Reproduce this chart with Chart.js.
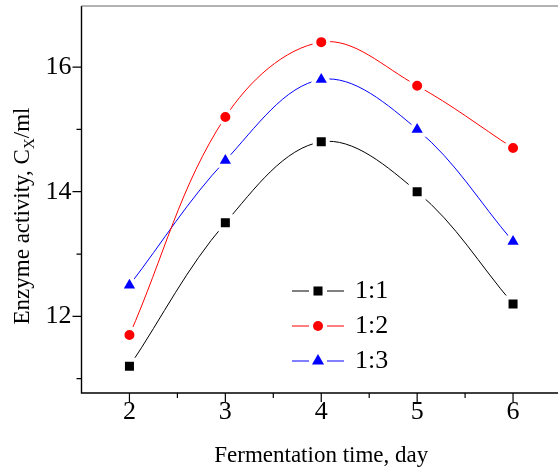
<!DOCTYPE html>
<html>
<head>
<meta charset="utf-8">
<script src="https://cdn.jsdelivr.net/npm/chart.js@4/dist/chart.umd.min.js"></script>
<style>
    html, body { margin: 0; padding: 0; background: #fff; overflow: hidden; }
    #wrap { width: 572px; height: 468px; }
</style>
</head>
<body>
<div id="wrap"><canvas id="activityChart" width="572" height="468"></canvas></div>
<script>
// fermentation day vs. enzyme activity for three substrate ratios
const days = [2, 3, 4, 5, 6];
const ratio11 = [11.2, 13.5, 14.8, 14.0, 12.2];
const ratio12 = [11.7, 15.2, 16.4, 15.7, 14.7];
const ratio13 = [12.5, 14.5, 15.8, 15.0, 13.2];
const seriesLabels = ['1:1', '1:2', '1:3'];

const xTicks = [2, 3, 4, 5, 6];
const xMinorTicks = [2.5, 3.5, 4.5, 5.5];
const yTicks = [12, 14, 16];
const yMinorTicks = [11, 13, 15];

const serif = "'Liberation Serif', 'Times New Roman', serif";

function points(values) {
    return days.map((d, i) => ({ x: d, y: values[i] }));
}

function series(label, values, color, style, radius) {
    return {
        label: label,
        data: points(values),
        borderColor: color,
        borderWidth: 1,
        backgroundColor: color,
        pointStyle: style,
        pointRadius: radius,
        pointHoverRadius: radius,
        pointBackgroundColor: color,
        pointBorderColor: '#fff',
        pointBorderWidth: 4,
        tension: 0.36,
        fill: false
    };
}

// no extra room for half-height tick labels at the axis ends
function noEndPadding(s) {
    s.paddingTop = 0;
    s.paddingBottom = 0;
    s.paddingLeft = 0;
    s.paddingRight = 0;
}

// frame, tick marks, axis titles and the line/marker legend
const axisDecor = {
    id: 'axisDecor',
    afterDraw(chart) {
        const ctx = chart.ctx;
        const a = chart.chartArea;
        const x = chart.scales.x, y = chart.scales.y;
        ctx.save();

        ctx.strokeStyle = '#000';
        ctx.lineWidth = 1.4;
        ctx.beginPath();
        ctx.moveTo(a.left, a.top);
        ctx.lineTo(a.left, a.bottom);
        ctx.lineTo(a.right, a.bottom);
        ctx.stroke();

        ctx.strokeStyle = '#666';
        ctx.lineWidth = 1;
        ctx.beginPath();
        ctx.moveTo(a.left, a.top);
        ctx.lineTo(a.right, a.top);
        ctx.stroke();

        ctx.strokeStyle = '#000';
        ctx.lineWidth = 1.2;
        ctx.beginPath();
        xTicks.forEach(v => { const p = x.getPixelForValue(v); ctx.moveTo(p, a.bottom); ctx.lineTo(p, a.bottom + 9); });
        xMinorTicks.forEach(v => { const p = x.getPixelForValue(v); ctx.moveTo(p, a.bottom); ctx.lineTo(p, a.bottom + 5); });
        yTicks.forEach(v => { const p = y.getPixelForValue(v); ctx.moveTo(a.left - 9, p); ctx.lineTo(a.left, p); });
        yMinorTicks.forEach(v => { const p = y.getPixelForValue(v); ctx.moveTo(a.left - 5, p); ctx.lineTo(a.left, p); });
        ctx.stroke();

        // x title
        ctx.fillStyle = '#000';
        ctx.font = '23px ' + serif;
        ctx.textAlign = 'center';
        ctx.textBaseline = 'alphabetic';
        ctx.fillText('Fermentation time, day', (a.left + a.right) / 2, 462);

        // y title with subscript X
        const main = 'Enzyme activity, C', sub = 'X', tail = '/ml';
        ctx.font = '23px ' + serif;
        const wMain = ctx.measureText(main).width;
        const wTail = ctx.measureText(tail).width;
        ctx.font = '15px ' + serif;
        const wSub = ctx.measureText(sub).width;
        const total = wMain + wSub + wTail;
        ctx.translate(29, 216);
        ctx.rotate(-Math.PI / 2);
        ctx.textAlign = 'left';
        ctx.font = '23px ' + serif;
        ctx.fillText(main, -total / 2, 0);
        ctx.font = '15px ' + serif;
        ctx.fillText(sub, -total / 2 + wMain, 5);
        ctx.font = '23px ' + serif;
        ctx.fillText(tail, -total / 2 + wMain + wSub, 0);
        ctx.setTransform(1, 0, 0, 1, 0, 0);

        // legend
        const legendSizes = [6.4, 5, 7];
        chart.data.datasets.forEach((ds, i) => {
            const ry = 291 + i * 35;
            ctx.strokeStyle = ds.borderColor;
            ctx.lineWidth = 1;
            ctx.beginPath();
            ctx.moveTo(292, ry); ctx.lineTo(309, ry);
            ctx.moveTo(327, ry); ctx.lineTo(344, ry);
            ctx.stroke();
            ctx.fillStyle = ds.borderColor;
            Chart.helpers.drawPoint(ctx, { pointStyle: ds.pointStyle, radius: legendSizes[i], rotation: 0, borderWidth: 0 }, 318, ry);
            ctx.fillStyle = '#000';
            ctx.font = '26px ' + serif;
            ctx.textAlign = 'left';
            ctx.textBaseline = 'alphabetic';
            ctx.fillText(ds.label, 355, ry + 6.5);
        });

        ctx.restore();
    }
};

new Chart(document.getElementById('activityChart').getContext('2d'), {
    type: 'line',
    data: {
        datasets: [
            series(seriesLabels[0], ratio11, '#000000', 'rect', 9.2),
            series(seriesLabels[1], ratio12, '#ff0000', 'circle', 7),
            series(seriesLabels[2], ratio13, '#0000ff', 'triangle', 10.5)
        ]
    },
    options: {
        responsive: false,
        animation: false,
        events: [],
        layout: { autoPadding: false, padding: { left: 0, top: 6, right: 11, bottom: 0 } },
        plugins: { legend: { display: false }, tooltip: { enabled: false } },
        scales: {
            x: {
                type: 'linear',
                min: 1.5,
                max: 6.5,
                afterBuildTicks: s => { s.ticks = xTicks.map(v => ({ value: v })); },
                afterFit: s => { s.height = 75; noEndPadding(s); },
                grid: { display: false, drawTicks: false },
                border: { display: false },
                ticks: { color: '#000', padding: 4, maxRotation: 0, font: { family: serif, size: 26 } }
            },
            y: {
                min: 10.77,
                max: 16.98,
                afterBuildTicks: s => { s.ticks = yTicks.map(v => ({ value: v })); },
                afterFit: s => { s.width = 81.5; noEndPadding(s); },
                grid: { display: false, drawTicks: false },
                border: { display: false },
                ticks: { color: '#000', padding: 10, font: { family: serif, size: 26 } }
            }
        }
    },
    plugins: [axisDecor]
});
</script>
</body>
</html>
